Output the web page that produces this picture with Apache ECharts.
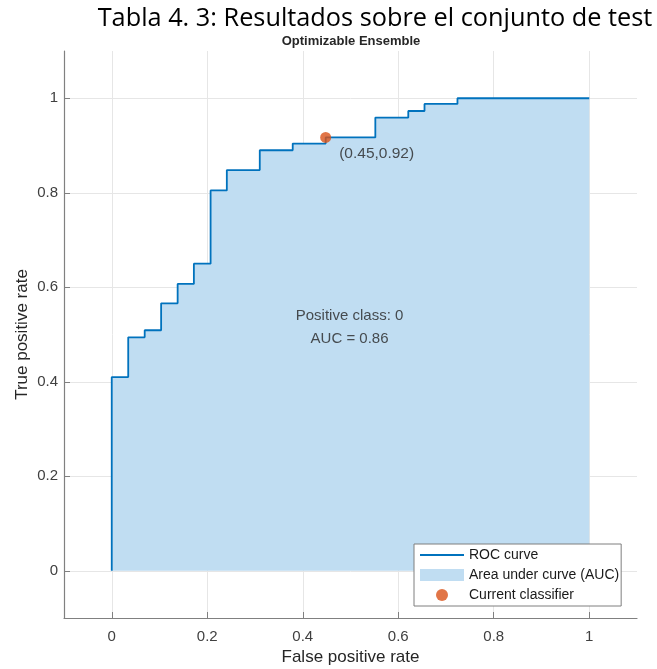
<!DOCTYPE html>
<html>
<head>
<meta charset="utf-8">
<script src="https://cdn.jsdelivr.net/npm/echarts@6/dist/echarts.min.js"></script>
<style>
html,body{margin:0;padding:0;background:#fff;}
#chart{width:657px;height:669px;}
</style>
</head>
<body>
<div id="chart"></div>
<script>
// ---- data ----
const pageTitle = 'Tabla 4. 3: Resultados sobre el conjunto de test';
const chartTitle = 'Optimizable Ensemble';
const xAxisName = 'False positive rate';
const yAxisName = 'True positive rate';
// ROC steps: at each false-positive rate the true-positive rate rises to the given value
const fprSteps = [0, 0.0345, 0.069, 0.1034, 0.138, 0.172, 0.207, 0.241, 0.310, 0.379, 0.448, 0.552, 0.621, 0.655, 0.724, 1];
const tprSteps = [0.41, 0.494, 0.509, 0.566, 0.607, 0.65, 0.805, 0.848, 0.89, 0.904, 0.917, 0.959, 0.973, 0.988, 1.0, 1.0];
const currentClassifier = [0.448, 0.917];
const currentLabel = '(0.45,0.92)';
const annotationPos = [0.498, 0.515];
const annotationText = ['Positive class: 0', 'AUC = 0.86'];
const tickValues = [0, 0.2, 0.4, 0.6, 0.8, 1];
const legendNames = ['ROC curve', 'Area under curve (AUC)', 'Current classifier'];

// ---- build ----
const rocPoints = [[0, 0]].concat(fprSteps.map((x, i) => [x, tprSteps[i]]));
const fmt = v => (Math.abs(v) < 1e-9 ? '0' : (Math.abs(v - 1) < 1e-9 ? '1' : String(+v.toFixed(1))));
const gridLineData = tickValues.map(v => ({ xAxis: v })).concat(tickValues.map(v => ({ yAxis: v })));

const font = 'Liberation Sans, Arial, sans-serif';
const axisCommon = {
  type: 'value', min: -0.1, max: 1.1,
  nameLocation: 'middle', nameMoveOverlap: false,
  nameTextStyle: { fontFamily: font, fontSize: 17, color: '#262626' },
  axisLine: { show: true, onZero: false, lineStyle: { color: '#808080', width: 1.2 } },
  axisTick: { show: true, inside: true, length: 6, customValues: tickValues, lineStyle: { color: '#808080' } },
  splitLine: { show: false }
};
const chart = echarts.init(document.getElementById('chart'), null, { renderer: 'canvas' });
chart.setOption({
  animation: false,
  backgroundColor: '#fff',
  title: [
    { text: pageTitle, left: 375, top: 6, padding: 0, textAlign: 'center',
      textStyle: { fontFamily: 'Open Sans, Noto Sans, sans-serif', fontSize: 25.3, fontWeight: 'normal', color: '#000' } },
    { text: chartTitle, left: 351, top: 35, padding: 0, textAlign: 'center',
      textStyle: { fontFamily: font, fontSize: 13, fontWeight: 'bold', color: '#262626' } }
  ],
  grid: { left: 64, right: 20, top: 51, bottom: 51, containLabel: false, outerBoundsMode: 'none' },
  xAxis: Object.assign({}, axisCommon, {
    name: xAxisName, nameGap: 31,
    axisLabel: { customValues: tickValues, formatter: fmt, fontFamily: font, fontSize: 15, color: '#404040', margin: 11 }
  }),
  yAxis: Object.assign({}, axisCommon, {
    name: yAxisName, nameGap: 33,
    axisLabel: { customValues: tickValues, formatter: fmt, fontFamily: font, fontSize: 15, color: '#404040', margin: 6 }
  }),
  legend: {
    orient: 'vertical', left: 414, top: 544,
    data: [
      { name: legendNames[0], icon: 'path://M0,0 L44,0 L44,2 L0,2 Z' },
      { name: legendNames[1], icon: 'rect' },
      { name: legendNames[2], icon: 'circle' }
    ],
    itemWidth: 44, itemHeight: 12, itemGap: 6,
    padding: [4, 2, 4, 6],
    backgroundColor: '#fff', borderColor: '#7f7f7f', borderWidth: 1,
    textStyle: { fontFamily: font, fontSize: 14, color: '#1a1a1a' },
    selectedMode: false
  },
  series: [
    {
      name: 'grid', type: 'line', data: [], z: 0, silent: true,
      markLine: {
        z: 0, silent: true, symbol: 'none', label: { show: false },
        lineStyle: { color: '#e6e6e6', width: 1, type: 'solid' },
        emphasis: { disabled: true },
        data: gridLineData, animation: false
      }
    },
    {
      name: legendNames[1], type: 'line', step: 'end', data: rocPoints, z: 1,
      symbol: 'none', color: '#c0ddf2',
      lineStyle: { width: 0 },
      areaStyle: { color: '#c0ddf2', opacity: 1 }
    },
    {
      name: legendNames[0], type: 'line', step: 'end', data: rocPoints, z: 3,
      symbol: 'none', color: '#0072BD',
      lineStyle: { color: '#0072BD', width: 1.8 }
    },
    {
      name: legendNames[2], type: 'scatter', data: [currentClassifier], z: 4,
      symbolSize: 11, color: '#D95319', itemStyle: { color: '#D95319' },
      label: { show: true, position: 'right', distance: 8, offset: [0, 16], formatter: currentLabel,
        fontFamily: font, fontSize: 15.5, color: '#262626' }
    },
    {
      name: 'annotation', type: 'scatter', data: [annotationPos], z: 5, silent: true,
      symbolSize: 1, itemStyle: { color: 'rgba(0,0,0,0)' },
      label: { show: true, position: 'inside', formatter: annotationText.join('\n'), lineHeight: 23,
        fontFamily: font, fontSize: 15, color: '#262626' }
    }
  ]
});
</script>
</body>
</html>
